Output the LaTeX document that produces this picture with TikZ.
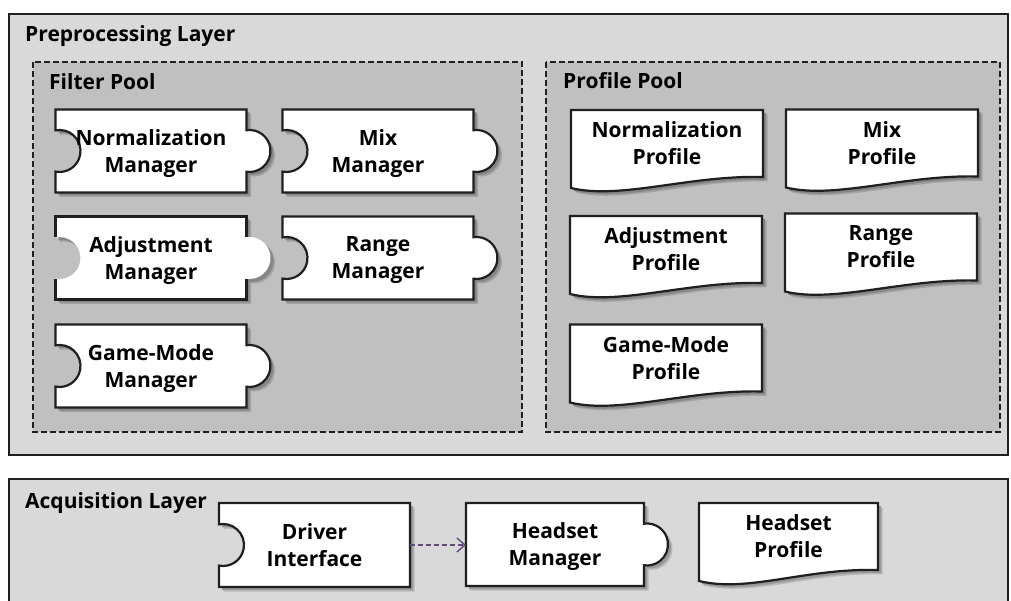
\documentclass[tikz,border=0pt]{standalone}
\usepackage{fontspec}
\setmainfont{Open Sans}
\usetikzlibrary{calc,arrows.meta}

\definecolor{layergray}{HTML}{D9D9D9}
\definecolor{poolgray}{HTML}{C0C0C0}
\definecolor{edgegray}{HTML}{1F1F1F}
\definecolor{linkpurple}{HTML}{604A7B}

\pgfdeclarelayer{bg}
\pgfdeclarelayer{shapes}
\pgfsetlayers{bg,shapes,main}

\tikzset{
  layer/.style={draw=edgegray, line width=2pt, fill=layergray},
  pool/.style={draw=edgegray, line width=2pt, dash pattern=on 6pt off 3pt, fill=poolgray},
  title/.style={anchor=base west, inner sep=0pt, font=\fontsize{21}{25}\selectfont\bfseries},
  comp/.style={minimum width=191pt, minimum height=83pt, inner sep=0pt, outer sep=0pt, text depth=0pt, align=center, font=\fontsize{21}{27}\selectfont\bfseries},
  prof/.style={comp, minimum width=192pt, minimum height=67pt},
  edge/.style={draw=edgegray, line width=2.2pt},
  flow/.style={draw=linkpurple, line width=1.4pt, dash pattern=on 5pt off 3pt, -{Straight Barb[length=8pt,width=14pt]}}
}

% outlines built on a node's anchors
\newcommand{\puzzleshape}[1]{(#1.north west) -- (#1.north east) -- ($(#1.east)+(0,-20.8)$) arc[start angle=-98.2, end angle=98.2, radius=21] -- (#1.south east) -- (#1.south west) -- ($(#1.west)+(0,20.6)$) arc[start angle=101, end angle=-101, radius=21] -- cycle}
\newcommand{\socketshape}[1]{(#1.north west) -- (#1.north east) -- (#1.south east) -- (#1.south west) -- ($(#1.west)+(0,20.6)$) arc[start angle=101, end angle=-101, radius=21] -- cycle}
\newcommand{\plugshape}[1]{(#1.north west) -- (#1.north east) -- ($(#1.east)+(0,-20.8)$) arc[start angle=-98.2, end angle=98.2, radius=21] -- (#1.south east) -- (#1.south west) -- cycle}
\newcommand{\docwave}[1]{(#1.north west) -- (#1.north east) -- (#1.south east) .. controls ($(#1.south east)+(-73,-2)$) and ($(#1.south west)+(49,23)$) .. ($(#1.south west)+(0,11)$) -- cycle}

% shadow, white body, outline: [ground colour]{node}{outline}{line style}
\newcommand{\shadedpiece}[4][poolgray]{%
  \fill[#1!85!black, transform canvas={xshift=4.5pt, yshift=-4.5pt}] #3{#2};
  \fill[#1!70!black, transform canvas={xshift=3pt, yshift=-3pt}] #3{#2};
  \fill[white] #3{#2};
  \draw[#4] #3{#2};}

\begin{document}
\begin{tikzpicture}[x=1pt,y=1pt,yscale=-1,xscale=1]
\useasboundingbox (0,0) rectangle (1011,601);

%Layers and pools
\begin{pgfonlayer}{bg}
\draw[layer] (9,14) rectangle (1008,455);
\draw[layer] (9,479) rectangle (1008,614);
\draw[pool] (33,62) rectangle (522,432);
\draw[pool] (546,62) rectangle (1000,432);
\end{pgfonlayer}

% Text Node
\node[title] (pre) at (25,42) {Preprocessing Layer};
\node[title] (fpl) at (49,90) {Filter Pool};
\node[title] (ppl) at (563,89) {Profile Pool};
\node[title] (acq) at (25,508) {Acquisition Layer};

% Managers
\node[comp] (nmm) at (151,151) {Normalization\\Manager};
\node[comp] (mxm) at (378,151) {Mix\\Manager};
\node[comp] (adm) at (151,258) {Adjustment\\Manager};
\node[comp] (rgm) at (378,258) {Range\\Manager};
\node[comp] (gmm) at (151,366) {Game-Mode\\Manager};
\node[comp, minimum height=84pt] (drv) at (314.5,545) {Driver\\Interface};
\node[comp, minimum width=178pt] (hsm) at (555,544.5) {Headset\\Manager};

% Profiles
\node[prof] (nmp) at (667,143.5) {Normalization\\Profile};
\node[prof] (mxp) at (882,143) {Mix\\Profile};
\node[prof] (adp) at (666,249.5) {Adjustment\\Profile};
\node[prof] (rgp) at (881,247) {Range\\Profile};
\node[prof] (gmp) at (666,358) {Game-Mode\\Profile};
\node[prof, minimum width=179pt] (hsp) at (788.5,536.5) {Headset\\Profile};

\begin{pgfonlayer}{shapes}
%Shape: puzzle pieces
\foreach \n in {nmm,mxm,rgm,gmm}
  {\shadedpiece{\n}{\puzzleshape}{edge}}
\shadedpiece{adm}{\puzzleshape}{draw=none}
\draw[edge] ($(adm.west)+(0,-20.6)$) -- (adm.north west) -- (adm.north east) -- ($(adm.east)+(0,-20.8)$)
  ($(adm.east)+(0,20.8)$) -- (adm.south east) -- (adm.south west) -- ($(adm.west)+(0,20.6)$);
\shadedpiece[layergray]{drv}{\socketshape}{edge}
\shadedpiece[layergray]{hsm}{\plugshape}{edge}
%Shape: documents
\foreach \n in {nmp,mxp,adp,rgp,gmp}
  {\shadedpiece{\n}{\docwave}{edge}}
\shadedpiece[layergray]{hsp}{\docwave}{edge}
\end{pgfonlayer}

%Straight Lines
\draw[flow] (drv.east) -- (drv.east -| hsm.west);

\end{tikzpicture}
\end{document}
